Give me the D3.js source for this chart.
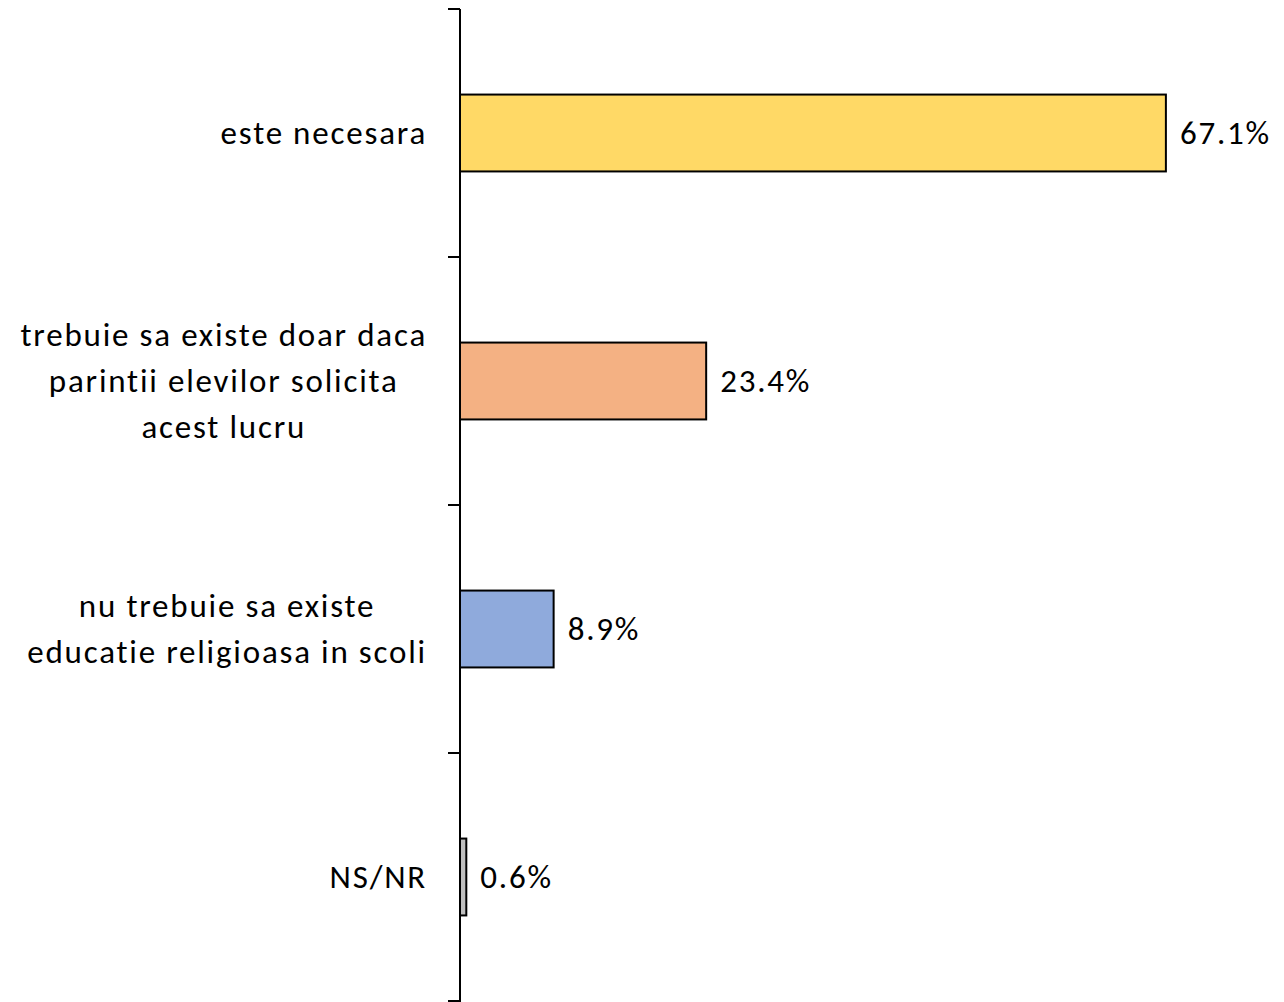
<!DOCTYPE html>
<html>
<head>
<meta charset="utf-8">
<script src="https://cdn.jsdelivr.net/npm/d3@7"></script>
<style>
  body { margin: 0; background: #fff; }
  text {
    font-family: Carlito, Calibri, Lato, sans-serif;
    fill: #000;
    letter-spacing: 1.8px;
    font-variant-ligatures: none;
  }
</style>
</head>
<body>
<div class="bar-chart"></div>
<script>
const width = 1284;
const height = 1002;

const categories = [
    ["este necesara"],
    ["trebuie sa existe doar daca", "parintii elevilor solicita", "acest lucru"],
    ["nu trebuie sa existe", "educatie religioasa in scoli"],
    ["NS/NR"],
];
const values = [67.1, 23.4, 8.9, 0.6];
const colors = ["#FFD966", "#F4B183", "#8FAADC", "#BFBFBF"];
const valueLabels = ["67.1%", "23.4%", "8.9%", "0.6%"];

const fontSize = 33;
const lineHeight = 46;
const axisX = 460;

function barChart() {
    const svg = d3
        .select(".bar-chart")
        .append("svg")
        .attr("width", width)
        .attr("height", height);

    const keys = categories.map((c, i) => i);

    const y = d3
        .scaleBand()
        .domain(keys)
        .range([9, 1001])
        .paddingInner(0.69)
        .paddingOuter(0.345);

    const x = d3.scaleLinear().domain([0, 80]).range([axisX, axisX + 80 * 10.52]);

    // bars
    svg.selectAll("rect.bar")
        .data(values)
        .enter()
        .append("rect")
        .attr("class", "bar")
        .attr("x", x(0))
        .attr("y", (d, i) => y(i))
        .attr("width", (d) => x(d) - x(0))
        .attr("height", y.bandwidth())
        .attr("fill", (d, i) => colors[i])
        .attr("stroke", "#000")
        .attr("stroke-width", 2);

    // value labels
    svg.selectAll("text.value")
        .data(values)
        .enter()
        .append("text")
        .attr("class", "value")
        .attr("x", (d) => x(d) + 14)
        .attr("y", (d, i) => y(i) + y.bandwidth() / 2)
        .attr("dominant-baseline", "central")
        .attr("font-size", fontSize)
        .text((d, i) => valueLabels[i]);

    // vertical axis with ticks at band boundaries (Excel style)
    const step = y.step();
    const boundaries = keys.map((k) => y(k) - (step * y.paddingInner()) / 2);
    boundaries.push(boundaries[boundaries.length - 1] + step);

    svg.append("line")
        .attr("x1", axisX)
        .attr("x2", axisX)
        .attr("y1", boundaries[0])
        .attr("y2", height)
        .attr("stroke", "#000")
        .attr("stroke-width", 2);

    svg.selectAll("line.tick")
        .data(boundaries)
        .enter()
        .append("line")
        .attr("class", "tick")
        .attr("x1", axisX - 12)
        .attr("x2", axisX)
        .attr("y1", (d) => d)
        .attr("y2", (d) => d)
        .attr("stroke", "#000")
        .attr("stroke-width", 2);

    // category labels, lines centred within a right-aligned block
    const labelRight = 427;
    categories.forEach((lines, i) => {
        const g = svg.append("g");
        const cy = y(i) + y.bandwidth() / 2;
        const t = g.selectAll("text")
            .data(lines)
            .enter()
            .append("text")
            .attr("font-size", fontSize)
            .attr("dominant-baseline", "central")
            .attr("text-anchor", "middle")
            .attr("y", (d, j) => cy + (j - (lines.length - 1) / 2) * lineHeight)
            .text((d) => d);
        let maxW = 0;
        t.each(function () {
            maxW = Math.max(maxW, this.getComputedTextLength());
        });
        t.attr("x", labelRight - maxW / 2);
    });
}

barChart();
</script>
</body>
</html>
